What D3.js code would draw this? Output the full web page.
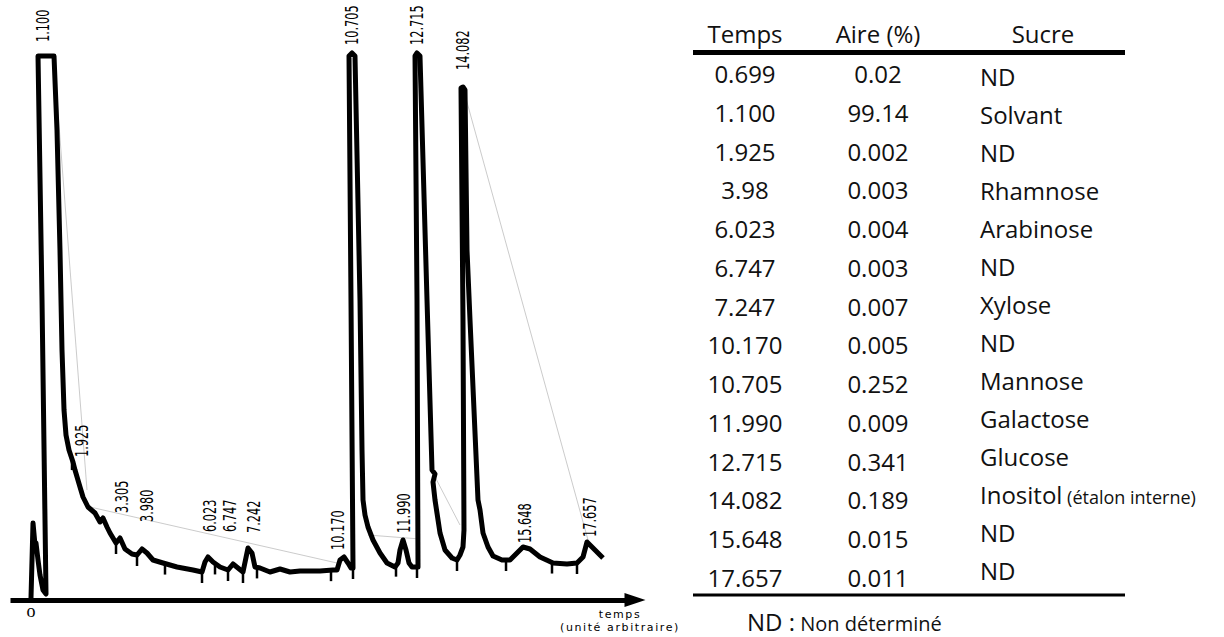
<!DOCTYPE html>
<html>
<head>
<meta charset="utf-8">
<script src="https://cdn.jsdelivr.net/npm/d3@7"></script>
<style>
  html, body { margin: 0; padding: 0; background: #fff; }
  svg { display: block; }
</style>
</head>
<body>
<div id="chart"></div>
<script>
// chromatogramme : temps (min, axe arbitraire) / signal (u.a.)
var traceT = [0.646,0.708,0.769,0.800,0.862,0.923,1.015,1.108,0.985,0.862,
  1.354,1.446,1.538,1.600,1.662,1.723,1.815,1.938,2.000,2.154,
  2.246,2.400,2.615,2.769,2.862,2.985,3.077,3.262,3.385,3.538,
  3.754,3.908,4.062,4.215,4.400,4.708,5.138,5.631,5.908,6.000,
  6.092,6.246,6.462,6.708,6.862,7.015,7.169,7.323,7.446,7.538,
  7.692,8.000,8.308,8.615,8.923,9.538,9.938,10.062,10.154,10.277,
  10.400,10.492,10.554,10.492,10.431,10.523,10.615,10.769,10.831,10.862,
  10.923,11.015,11.169,11.385,11.600,11.846,11.938,12.000,12.092,12.185,
  12.277,12.369,12.523,12.554,12.523,12.462,12.523,12.615,12.831,12.985,
  13.077,13.015,13.077,13.138,13.231,13.385,13.600,13.754,13.846,13.938,
  13.969,13.938,13.877,13.938,14.000,14.062,14.154,14.400,14.462,14.554,
  14.708,14.862,15.138,15.385,15.600,15.785,16.000,16.308,16.708,17.138,
  17.446,17.631,17.754,17.908,18.092,18.246];
var traceS = [2,77,55,57,40,25,10,6,300,544,
  544,470,350,250,190,165,150,138,130,113,
  103,93,87,78,82,73,67,57,62,51,
  46,45,51,47,40,37,33,30,28,38,
  43,38,33,30,36,32,28,52,47,33,
  32,28,31,28,29,29,30,30,40,43,
  37,32,32,300,544,547,544,300,150,100,
  85,73,60,47,37,33,37,50,60,50,
  37,33,33,33,300,544,547,544,300,130,
  126,118,100,87,67,50,42,40,45,53,
  70,280,512,513,510,350,280,100,90,67,
  53,44,40,40,47,53,51,43,37,36,
  37,43,58,53,47,42];

// marques d'intégration
var tickTimes = [1.908,3.262,3.908,4.769,5.908,6.308,6.708,7.169,7.6,9.877,
  10.554,11.877,12.523,13.754,15.262,16.677,17.446];

// lignes de base tracées par l'intégrateur [t1, s1, t2, s2]
var baseLines = [[1.354,540,2.369,110],[2.462,93,10.062,37],[11.015,65,12.615,61],
  [13.015,127,13.846,75],[14.0,505,17.785,60]];

// étiquettes des pics
var peakNames = ["1.100","1.925","3.305","3.980","6.023","6.747","7.242",
  "10.170","10.705","11.990","12.715","14.082","15.648","17.657"];
var peakPos = [1.015,2.215,3.446,4.215,6.154,6.769,7.508,
  10.092,10.523,12.123,12.523,13.938,15.846,17.846];
var peakLevel = [558,143,87,78,68,68,67,50,555,67,555,530,57,63];

// tableau
var colHeads = ["Temps","Aire (%)","Sucre"];
var tempsCol = ["0.699","1.100","1.925","3.98","6.023","6.747","7.247",
  "10.170","10.705","11.990","12.715","14.082","15.648","17.657"];
var aireCol = ["0.02","99.14","0.002","0.003","0.004","0.003","0.007",
  "0.005","0.252","0.009","0.341","0.189","0.015","0.011"];
var sucreCol = ["ND","Solvant","ND","Rhamnose","Arabinose","ND","Xylose",
  "ND","Mannose","Galactose","Glucose","Inositol","ND","ND"];
var sucreNote = {11: "(étalon interne)"};

class Chromato {
  constructor(option) {
    for (let [key, value] of Object.entries(option)) {
      this[key] = value;
    }
    this.svg = d3.select(this.ele).append("svg")
      .attr("width", this.width)
      .attr("height", this.height);
    this.svg.append("rect").attr("width", this.width).attr("height", this.height).attr("fill", "#fff");
    this.x = d3.scaleLinear().domain([0, 19]).range([10, 627.5]);
    this.y = d3.scaleLinear().domain([0, 544]).range([600, 56]);
    this.drawTrace();
    this.drawAxis();
    this.drawTable();
  }
  signalAt(t) {
    for (let i = 0; i < traceT.length - 1; i++) {
      let a = traceT[i], b = traceT[i + 1];
      if (t >= Math.min(a, b) && t <= Math.max(a, b) && a !== b) {
        return traceS[i] + (traceS[i + 1] - traceS[i]) * (t - a) / (b - a);
      }
    }
    return 0;
  }
  drawTrace() {
    var x = this.x, y = this.y, self = this;
    var g = this.svg.append("g");

    g.selectAll("line.base").data(baseLines).enter().append("line")
      .attr("class", "base")
      .attr("x1", d => x(d[0])).attr("y1", d => y(d[1]))
      .attr("x2", d => x(d[2])).attr("y2", d => y(d[3]))
      .attr("stroke", "#b5b5b5").attr("stroke-width", 0.7);

    var line = d3.line()
      .x(function(d, i) { return x(traceT[i]); })
      .y(function(d, i) { return y(traceS[i]); });
    g.append("path")
      .datum(traceS)
      .attr("d", line)
      .attr("fill", "none")
      .attr("stroke", "#000")
      .attr("stroke-width", 5)
      .attr("stroke-linejoin", "round");

    g.selectAll("line.tick").data(tickTimes).enter().append("line")
      .attr("class", "tick")
      .attr("x1", d => x(d)).attr("x2", d => x(d))
      .attr("y1", d => y(self.signalAt(d)))
      .attr("y2", d => y(self.signalAt(d)) + 11)
      .attr("stroke", "#000").attr("stroke-width", 2.5);

    g.selectAll("text.peak").data(peakNames).enter().append("text")
      .attr("class", "peak")
      .attr("transform", (d, i) => `translate(${x(peakPos[i])},${y(peakLevel[i])}) rotate(-90) scale(0.7,1)`)
      .attr("dy", "0.35em")
      .style("font-family", "'Liberation Sans Narrow', 'DejaVu Sans Condensed', sans-serif")
      .style("font-size", "18px")
      .attr("fill", "#000")
      .text(d => d);
  }
  drawAxis() {
    var x = this.x, y = this.y;
    var axis = this.svg.append("g")
      .attr("transform", `translate(0,${y(0)})`)
      .call(d3.axisBottom(x).ticks(0).tickSizeOuter(0));
    axis.select(".domain").attr("stroke", "#000").attr("stroke-width", 5);
    var xe = x(19);
    this.svg.append("path")
      .attr("d", `M${xe - 3},${y(0) - 7}L${xe + 18},${y(0)}L${xe - 3},${y(0) + 7}Z`)
      .attr("fill", "#000");
    this.svg.append("text")
      .attr("x", x(traceT[0])).attr("y", y(0) + 17)
      .attr("text-anchor", "middle")
      .style("font-family", "'Liberation Serif', serif").style("font-size", "18px")
      .text("o");
    var lab = this.svg.append("text")
      .attr("text-anchor", "middle")
      .style("font-family", "'DejaVu Sans', sans-serif").style("font-size", "11px")
      .style("letter-spacing", "1.6px");
    lab.append("tspan").attr("x", 620).attr("y", 618).text("temps");
    lab.append("tspan").attr("x", 620).attr("y", 631).text("(unité arbitraire)");
  }
  drawTable() {
    var t = this.svg.append("g")
      .style("font-family", "'Open Sans', sans-serif")
      .style("font-size", "24px")
      .attr("fill", "#111");
    var colX = [745, 878, 1043];
    var rowY = d3.scaleLinear().domain([0, tempsCol.length - 1]).range([83, 587]);
    var sucY = d3.scaleLinear().domain([0, sucreCol.length - 1]).range([86, 580]);

    t.selectAll("text.head").data(colHeads).enter().append("text")
      .attr("x", (d, i) => colX[i]).attr("y", 43)
      .attr("text-anchor", "middle").text(d => d);
    t.append("line").attr("x1", 693).attr("x2", 1125).attr("y1", 52.5).attr("y2", 52.5)
      .attr("stroke", "#000").attr("stroke-width", 5);
    t.append("line").attr("x1", 693).attr("x2", 1125).attr("y1", 595).attr("y2", 595)
      .attr("stroke", "#000").attr("stroke-width", 3);

    t.selectAll("text.temps").data(tempsCol).enter().append("text")
      .attr("x", colX[0]).attr("y", (d, i) => rowY(i))
      .attr("text-anchor", "middle").text(d => d);
    t.selectAll("text.aire").data(aireCol).enter().append("text")
      .attr("x", colX[1]).attr("y", (d, i) => rowY(i))
      .attr("text-anchor", "middle").text(d => d);
    var suc = t.selectAll("text.sucre").data(sucreCol).enter().append("text")
      .attr("x", 980).attr("y", (d, i) => sucY(i))
      .text(d => d);
    suc.filter((d, i) => sucreNote[i])
      .append("tspan").style("font-size", "18px")
      .text(" " + sucreNote[11]);

    var note = t.append("text").attr("x", 747).attr("y", 631);
    note.append("tspan").text("ND :");
    note.append("tspan").style("font-size", "20px").text(" Non déterminé");
  }
}

var chart = new Chromato({
  ele: document.getElementById("chart"),
  width: 1224,
  height: 637
});
</script>
</body>
</html>
